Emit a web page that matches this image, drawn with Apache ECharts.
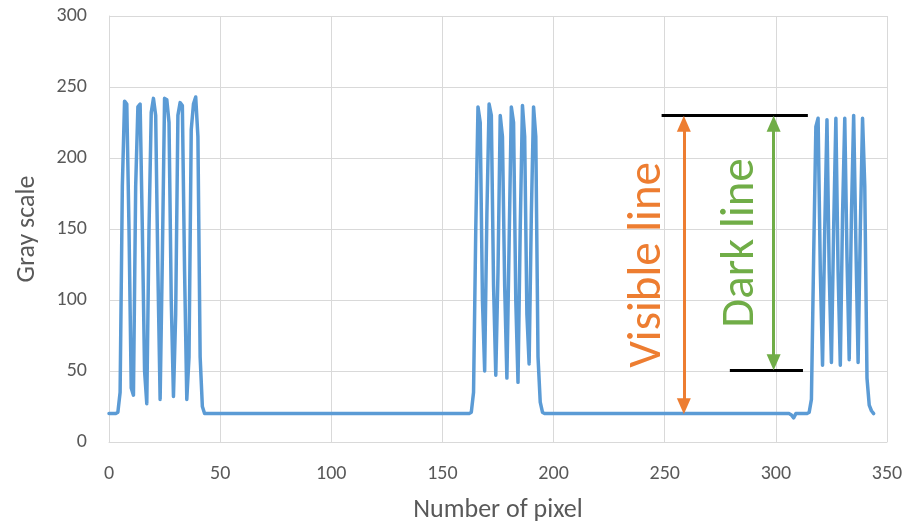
<!DOCTYPE html>
<html>
<head>
<meta charset="utf-8">
<script src="https://cdn.jsdelivr.net/npm/echarts@6/dist/echarts.min.js"></script>
<style>html,body{margin:0;padding:0;background:#fff;}#chart{width:913px;height:528px;}</style>
</head>
<body>
<div id="chart"></div>
<script>
// Gray scale value for each pixel index (0..344)
const grayValues = [
  20,20,20,20,21,35,180,240,238,150,      // 0
  38,33,180,236,238,150,50,27,150,232,    // 10
  242,230,120,30,130,242,241,225,100,32,  // 20
  90,230,239,237,120,30,60,220,238,243,   // 30
  215,60,25,20,20,20,20,20,20,20,         // 40
  20,20,20,20,20,20,20,20,20,20,          // 50
  20,20,20,20,20,20,20,20,20,20,          // 60
  20,20,20,20,20,20,20,20,20,20,          // 70
  20,20,20,20,20,20,20,20,20,20,          // 80
  20,20,20,20,20,20,20,20,20,20,          // 90
  20,20,20,20,20,20,20,20,20,20,          // 100
  20,20,20,20,20,20,20,20,20,20,          // 110
  20,20,20,20,20,20,20,20,20,20,          // 120
  20,20,20,20,20,20,20,20,20,20,          // 130
  20,20,20,20,20,20,20,20,20,20,          // 140
  20,20,20,20,20,20,20,20,20,20,          // 150
  20,20,20,21,35,150,236,225,100,50,      // 160
  160,238,230,110,47,120,230,215,110,45,  // 170
  140,236,225,100,42,150,237,215,90,55,   // 180
  160,236,215,60,28,21,20,20,20,20,       // 190
  20,20,20,20,20,20,20,20,20,20,          // 200
  20,20,20,20,20,20,20,20,20,20,          // 210
  20,20,20,20,20,20,20,20,20,20,          // 220
  20,20,20,20,20,20,20,20,20,20,          // 230
  20,20,20,20,20,20,20,20,20,20,          // 240
  20,20,20,20,20,20,20,20,20,20,          // 250
  20,20,20,20,20,20,20,20,20,20,          // 260
  20,20,20,20,20,20,20,20,20,20,          // 270
  20,20,20,20,20,20,20,20,20,20,          // 280
  20,20,20,20,20,20,20,20,20,20,          // 290
  20,20,20,20,20,20,20,19,17,20,          // 300
  20,20,20,20,20,21,30,130,222,228,       // 310
  120,54,150,227,120,56,150,228,120,54,   // 320
  160,228,130,58,160,230,140,56,150,228,  // 330
  180,45,26,22,20                         // 340
];
const xTicks = [0, 50, 100, 150, 200, 250, 300, 350];
const yTicks = [0, 50, 100, 150, 200, 250, 300];

// Annotation geometry in data units (arrow shafts end where arrowheads are centred)
const topBar = [[248.6, 229.8], [314.4, 229.8]];
const bottomBar = [[279.3, 50.5], [312.2, 50.5]];
const visibleArrow = [[258.6, 25.2], [258.6, 224.2]];
const darkArrow = [[299, 56.1], [299, 224.2]];
const visibleLabel = 'Visible line';
const darkLabel = 'Dark line';

const FONT = 'Carlito, Lato, "Liberation Sans", sans-serif';
const seriesData = grayValues.map((v, i) => [i, v]);

const chart = echarts.init(document.getElementById('chart'), null, {renderer: 'canvas'});
chart.setOption({
  animation: false,
  backgroundColor: '#ffffff',
  grid: {left: 109, right: 26, top: 16, bottom: 84, containLabel: false},
  xAxis: {
    type: 'value', min: xTicks[0], max: xTicks[xTicks.length - 1], interval: 50,
    name: 'Number of pixel', nameLocation: 'middle', nameGap: 55,
    nameTextStyle: {color: '#595959', fontSize: 26, fontFamily: FONT},
    axisLine: {show: true, lineStyle: {color: '#d9d9d9', width: 1}},
    axisTick: {show: false},
    axisLabel: {color: '#595959', fontSize: 20, fontFamily: FONT, margin: 22},
    splitLine: {show: true, lineStyle: {color: '#d9d9d9', width: 1}}
  },
  yAxis: {
    type: 'value', min: yTicks[0], max: yTicks[yTicks.length - 1], interval: 50,
    name: 'Gray scale', nameLocation: 'middle', nameGap: 69,
    nameTextStyle: {color: '#595959', fontSize: 26, fontFamily: FONT},
    axisLine: {show: true, lineStyle: {color: '#d9d9d9', width: 1}},
    axisTick: {show: false},
    axisLabel: {color: '#595959', fontSize: 20, fontFamily: FONT, margin: 22},
    splitLine: {show: true, lineStyle: {color: '#d9d9d9', width: 1}}
  },
  series: [{
    type: 'line',
    data: seriesData,
    showSymbol: false,
    symbol: 'none',
    lineStyle: {color: '#5b9bd5', width: 3.5, join: 'round', cap: 'round'},
    itemStyle: {color: '#5b9bd5'},
    markLine: {
      silent: true,
      animation: false,
      data: [
        [{coord: topBar[0], symbol: 'none', lineStyle: {color: '#000', width: 3, type: 'solid'}, label: {show: false}},
         {coord: topBar[1], symbol: 'none'}],
        [{coord: bottomBar[0], symbol: 'none', lineStyle: {color: '#000', width: 3, type: 'solid'}, label: {show: false}},
         {coord: bottomBar[1], symbol: 'none'}],
        [{coord: visibleArrow[0], symbol: 'triangle', symbolSize: [14, 16],
          lineStyle: {color: '#ed7d31', width: 3, type: 'solid'},
          label: {show: true, formatter: visibleLabel, position: 'insideMiddleTop', distance: 12,
                  color: '#ed7d31', fontSize: 47, fontFamily: FONT}},
         {coord: visibleArrow[1], symbol: 'triangle', symbolSize: [14, 16]}],
        [{coord: darkArrow[0], symbol: 'triangle', symbolSize: [14, 16],
          lineStyle: {color: '#70ad47', width: 3, type: 'solid'},
          label: {show: true, formatter: darkLabel, position: 'insideMiddleTop', distance: 9,
                  color: '#70ad47', fontSize: 47, fontFamily: FONT}},
         {coord: darkArrow[1], symbol: 'triangle', symbolSize: [14, 16]}]
      ]
    }
  }]
});
</script>
</body>
</html>
